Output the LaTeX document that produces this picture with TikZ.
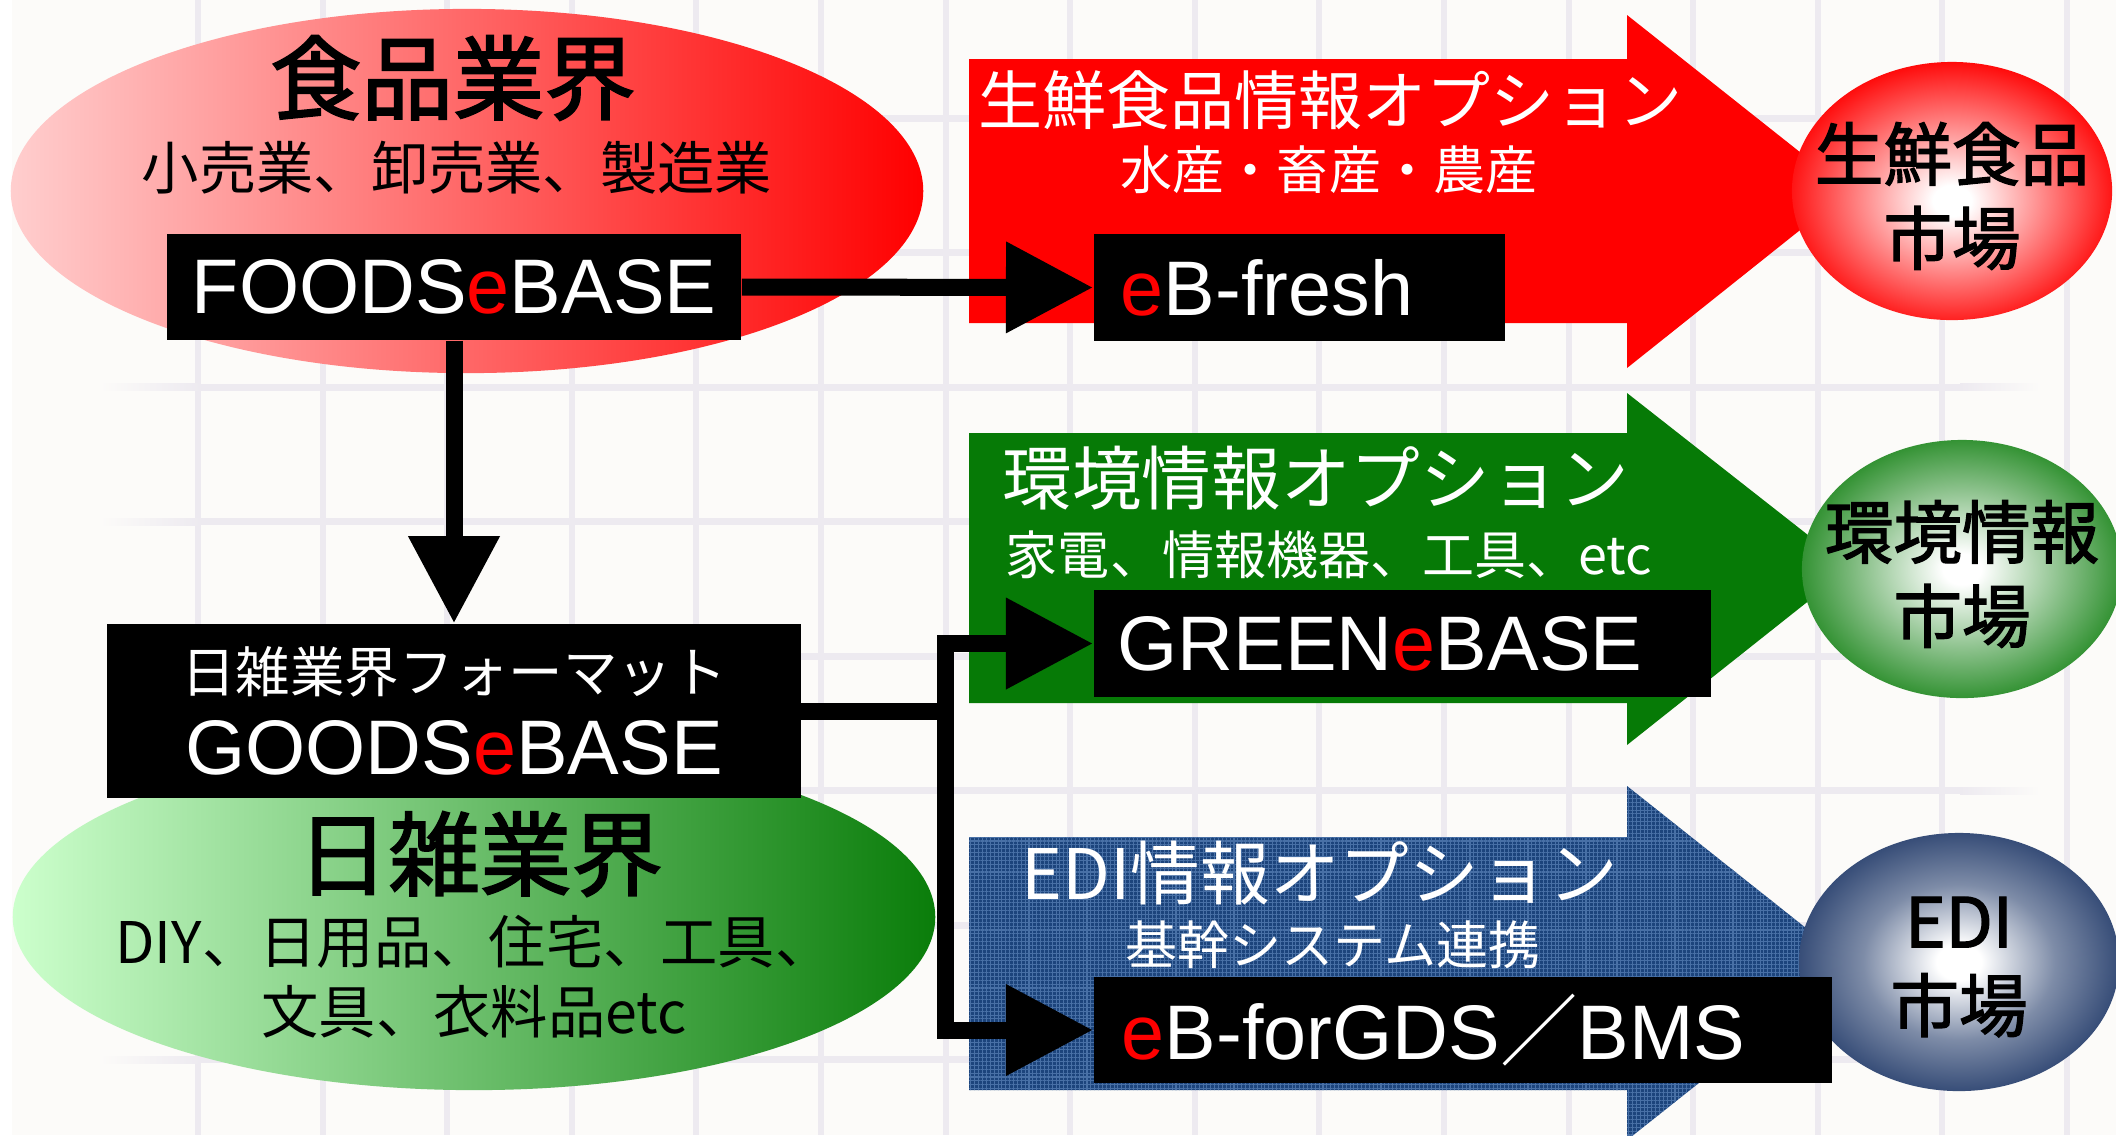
\documentclass[tikz,border=0pt]{standalone}
\usepackage{fontspec}
\setmainfont{Liberation Sans}
\newfontfamily\jpfont{Noto Sans CJK JP}
\newfontfamily\jpheavy[FakeBold=2]{Noto Sans CJK JP}
\usepackage{tikz}
\usetikzlibrary{shapes.geometric, arrows.meta, patterns.meta, positioning}
\definecolor{bgpaper}{RGB}{252,251,249}
\definecolor{gridline}{RGB}{237,234,240}
\definecolor{optred}{RGB}{255,0,0}
\definecolor{optgreen}{RGB}{6,122,6}
\definecolor{optblue}{RGB}{28,68,124}
\definecolor{optbluelite}{RGB}{72,112,166}
\definecolor{pinklight}{RGB}{255,206,206}
\definecolor{greenlight}{RGB}{204,255,204}
\definecolor{greendark}{RGB}{10,125,10}
\definecolor{navyedge}{RGB}{20,46,96}
\pgfdeclareradialshading{freshball}{\pgfpoint{0bp}{-2bp}}{color(0bp)=(white); color(3bp)=(white); color(27bp)=(optred); color(50bp)=(optred)}
\pgfdeclareradialshading{greenball}{\pgfpoint{0bp}{0bp}}{color(0bp)=(white); color(3bp)=(white); color(30bp)=(optgreen); color(50bp)=(optgreen)}
\pgfdeclareradialshading{ediball}{\pgfpoint{0bp}{0bp}}{color(0bp)=(white); color(3.5bp)=(white); color(15bp)=(navyedge!55!white); color(30bp)=(navyedge); color(50bp)=(navyedge)}
\newcommand{\rede}{\textcolor{red}{e}}
\tikzstyle{vgrid} = [gridline, line width=1.7pt]
\tikzstyle{industry} = [ellipse, inner sep=0pt]
\tikzstyle{bigtitle} = [inner sep=0pt, font=\jpheavy\fontsize{26}{26}\selectfont]
\tikzstyle{listtext} = [inner sep=0pt, font=\jpfont\fontsize{16.3}{19.9}\selectfont]
\tikzstyle{opttitle} = [inner sep=0pt, text=white, font=\jpfont\fontsize{19.8}{19.8}\selectfont]
\tikzstyle{optnote} = [inner sep=0pt, text=white, font=\jpfont\fontsize{14.8}{14.8}\selectfont]
\tikzstyle{market} = [ellipse, shade, inner sep=0pt, minimum width=3.2cm, minimum height=2.58cm]
\tikzstyle{markettext} = [inner sep=0pt, align=center, font=\jpheavy\fontsize{19.5}{23.9}\selectfont]
\tikzstyle{ebox} = [fill=black, text=white, inner sep=0pt, font=\fontsize{22}{23.3}\selectfont]
\tikzstyle{wire} = [line width=0.17cm]
\tikzstyle{conn} = [wire, -{Triangle[length=0.87cm, width=0.87cm]}]

\begin{document}
\begin{tikzpicture}[x=0.01cm, y=-0.01cm]
\useasboundingbox (0,0) rectangle (2116,1135);
\fill[bgpaper] (0,0) rectangle (2116,1135);
\fill[white] (0,0) rectangle (12,1135);
\foreach \gx in {0,...,15}
  \draw[vgrid] ({198+124.6*\gx},0) -- ({198+124.6*\gx},1135);
\foreach \gy in {0,...,7} {
  \shade[left color=bgpaper, right color=gridline] (100,{114.5+134.5*\gy}) rectangle (200,{121.5+134.5*\gy});
  \fill[gridline] (200,{114.5+134.5*\gy}) rectangle (1960,{121.5+134.5*\gy});
  \shade[left color=gridline, right color=bgpaper] (1960,{114.5+134.5*\gy}) rectangle (2040,{121.5+134.5*\gy});
}

% industries
\node[industry, left color=pinklight, right color=optred, minimum width=9.12cm, minimum height=3.64cm] (foodsarea) at (467,191) {};
\node[bigtitle] (foodstitle) at (453,78) {食品業界};
\node[listtext] (foodslist) at (457,168) {小売業、卸売業、製造業};
\node[industry, left color=greenlight, right color=greendark, minimum width=9.22cm, minimum height=3.46cm] (goodsarea) at (474,917) {};
\node[bigtitle] (goodstitle) at (480,854) {日雑業界};
\node[listtext, align=center] (goodslist) at (474,977) {DIY、日用品、住宅、工具、\\文具、衣料品etc};

% options
\fill[optred] (969,59) -- (1627,59) -- (1627,15) -- (1849,191) -- (1627,368) -- (1627,323) -- (969,323) -- cycle;
\fill[optgreen] (969,433) -- (1627,433) -- (1627,393) -- (1850,568) -- (1627,745) -- (1627,703) -- (969,703) -- cycle;
\fill[optblue] (969,837) -- (1627,837) -- (1627,786) -- (1850,963) -- (1627,1140) -- (1627,1090) -- (969,1090) -- cycle;
\fill[pattern={Lines[angle=0, distance=1.1pt, line width=0.3pt]}, pattern color=optbluelite] (969,837) -- (1627,837) -- (1627,786) -- (1850,963) -- (1627,1140) -- (1627,1090) -- (969,1090) -- cycle;
\fill[pattern={Lines[angle=90, distance=1.1pt, line width=0.3pt]}, pattern color=optbluelite] (969,837) -- (1627,837) -- (1627,786) -- (1850,963) -- (1627,1140) -- (1627,1090) -- (969,1090) -- cycle;
\node[opttitle, font=\jpfont\fontsize{18.2}{18.2}\selectfont] (freshtitle) at (1330,100) {生鮮食品情報オプション};
\node[optnote] (freshitems) at (1329,170) {水産・畜産・農産};
\node[opttitle] (greentitle) at (1316,478) {環境情報オプション};
\node[optnote] (greenitems) at (1329,555) {家電、情報機器、工具、etc};
\node[opttitle] (edititle) at (1320,873) {EDI情報オプション};
\node[optnote] (ediitems) at (1333,945) {基幹システム連携};

% markets
\node[market, shading=freshball] (freshmkt) at (1952,191) {};
\node[markettext] (freshmkttext) at ([yshift=-0.05cm]freshmkt.center) {生鮮食品\\市場};
\node[market, shading=greenball] (greenmkt) at (1962,569) {};
\node[markettext] (greenmkttext) at ([yshift=-0.05cm]greenmkt.center) {環境情報\\市場};
\node[market, shading=ediball] (edimkt) at (1959,962) {};
\node[markettext] (edimkttext) at ([yshift=-0.05cm]edimkt.center) {EDI\\市場};

% formats
\node[ebox, minimum width=5.74cm, minimum height=1.06cm] (foodsbase) at (454,287) {FOODS\rede BASE};
\node[ebox, minimum width=6.93cm, minimum height=1.74cm, align=center] (goodsbase) at (454,711) {{\jpfont\fontsize{15.5}{15.5}\selectfont 日雑業界フォーマット}\\GOODS\rede BASE};
\node[ebox, anchor=west, text width=3.57cm, inner xsep=0.27cm, minimum height=1.07cm, align=left] (freshbase) at (1093,287.5) {\rede B-fresh};
\node[ebox, anchor=west, text width=5.69cm, inner xsep=0.24cm, minimum height=1.07cm, align=left] (greenbase) at (1093,643.5) {GREEN\rede BASE};
\node[ebox, anchor=west, text width=6.82cm, inner xsep=0.28cm, minimum height=1.06cm, align=left] (edibase) at (1093,1030) {\rede B-forGDS{\jpfont ／}BMS};

\draw[conn] (foodsbase.east) -- (freshbase.west);
\draw[conn] (foodsbase.south) -- (goodsbase.north);
\coordinate (split) at (945,711);
\draw[wire] (goodsbase.east) -- (split);
\draw[conn] (split) |- (greenbase.west);
\draw[conn] (split) |- (edibase.west);
\end{tikzpicture}
\end{document}
